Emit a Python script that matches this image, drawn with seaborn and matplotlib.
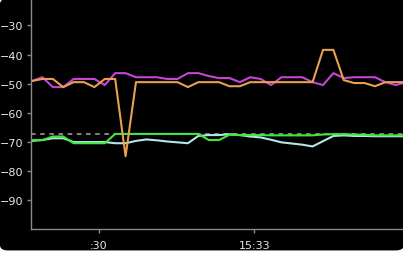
import numpy as np
import pandas as pd
import matplotlib
matplotlib.use("Agg")
import matplotlib.pyplot as plt
from matplotlib.patches import FancyBboxPatch
import seaborn as sns

# time in seconds after 15:32:00 (one sample every 2 s)
seconds = pd.date_range("2024-01-01 15:32:17.2", periods=37, freq="2s")
t_sec = list((seconds - pd.Timestamp("2024-01-01 15:32:00")).total_seconds())

magenta = [-49.1, -47.8, -51.2, -51.2, -48.4, -48.4, -48.4, -50.5, -46.4, -46.4,
           -47.8, -47.8, -47.8, -48.4, -48.4, -46.4, -46.4, -47.4, -48.1, -48.1,
           -49.5, -47.8, -48.4, -50.5, -47.8, -47.8, -47.8, -49.5, -50.5, -46.4,
           -48.1, -47.8, -47.8, -47.8, -49.5, -50.5, -49.5]
orange = [-49.1, -48.4, -48.4, -51.2, -49.5, -49.5, -51.2, -48.4, -48.4, -75.0,
          -49.5, -49.5, -49.5, -49.5, -49.5, -51.2, -49.5, -49.5, -49.5, -50.9,
          -50.9, -49.5, -49.5, -49.5, -49.5, -49.5, -49.5, -49.5, -38.4, -38.4,
          -48.8, -49.8, -49.8, -50.9, -49.5, -49.5, -49.5]
green = [-69.4, -69.4, -68.2, -68.2, -70.5, -70.5, -70.5, -70.5, -67.3, -67.3,
         -67.3, -67.3, -67.3, -67.3, -67.3, -67.3, -67.3, -69.4, -69.4, -67.6,
         -67.7, -67.7, -67.7, -67.8, -67.8, -67.8, -67.8, -67.8, -67.5, -67.4,
         -67.4, -67.5, -67.6, -67.8, -67.8, -67.8, -67.8]
cyan = [-69.7, -69.4, -68.8, -68.8, -70.1, -70.1, -70.1, -70.1, -70.5, -70.5,
        -69.7, -69.2, -69.5, -69.9, -70.2, -70.5, -68.0, -67.7, -67.7, -67.4,
        -67.7, -68.2, -68.5, -69.3, -70.2, -70.6, -71.0, -71.6, -69.8, -68.0,
        -67.8, -68.0, -68.0, -68.1, -68.1, -68.1, -68.1]
threshold = -67.5

y_ticks = [-30, -40, -50, -60, -70, -80, -90]
x_ticks = [30, 60]
x_tick_labels = [":30", "15:33"]

sns.set_theme(style="dark")
plt.rcParams["font.family"] = ["DejaVu Sans"]

fig = plt.figure(figsize=(4.03, 2.55), dpi=100, facecolor="white")
panel = FancyBboxPatch((0.006, 0.02), 0.99, 0.975,
                       boxstyle="round,pad=0.006,rounding_size=0.02",
                       transform=fig.transFigure, facecolor="black",
                       edgecolor="none", zorder=-10)
fig.patches.append(panel)

ax = fig.add_axes([30.5 / 403, 25 / 255, 1 - 30.5 / 403, 1 - 25 / 255])
ax.set_facecolor("black")
ax.set_zorder(5)

df = pd.DataFrame({
    "t": t_sec * 4,
    "v": magenta + orange + green + cyan,
    "s": ["magenta"] * 37 + ["orange"] * 37 + ["green"] * 37 + ["cyan"] * 37,
})
palette = {"magenta": "#c844d8", "orange": "#e8a050", "green": "#3ee83e", "cyan": "#b4e6e6"}
sns.lineplot(data=df[df.s.isin(["cyan", "green"])], x="t", y="v", hue="s",
             palette=palette, linewidth=1.5, legend=False, ax=ax,
             hue_order=["cyan", "green"])
ax.axhline(threshold, color="#a8a8a8", linestyle=(0, (3, 3)), linewidth=1.1, zorder=1)
sns.lineplot(data=df[df.s.isin(["magenta", "orange"])], x="t", y="v", hue="s",
             palette=palette, linewidth=1.5, legend=False, ax=ax,
             hue_order=["magenta", "orange"])

ax.set_xlim(16.9, 88.6)
ax.set_ylim(-100, -20.9)
ax.set_yticks(y_ticks)
ax.set_xticks(x_ticks)
ax.set_xticklabels(x_tick_labels)
ax.set_xlabel("")
ax.set_ylabel("")
ax.grid(False)
for side in ["top", "right"]:
    ax.spines[side].set_visible(False)
for side in ["left", "bottom"]:
    ax.spines[side].set_visible(True)
    ax.spines[side].set_color("#8a8a8a")
    ax.spines[side].set_linewidth(1.0)
ax.tick_params(axis="both", colors="#8a8a8a", labelcolor="#e8e8e8",
               labelsize=8, length=3, width=1, direction="out",
               left=True, bottom=True, pad=2)
ax.tick_params(axis="x", pad=5)

fig.savefig("out.png", dpi=100, facecolor="white")
